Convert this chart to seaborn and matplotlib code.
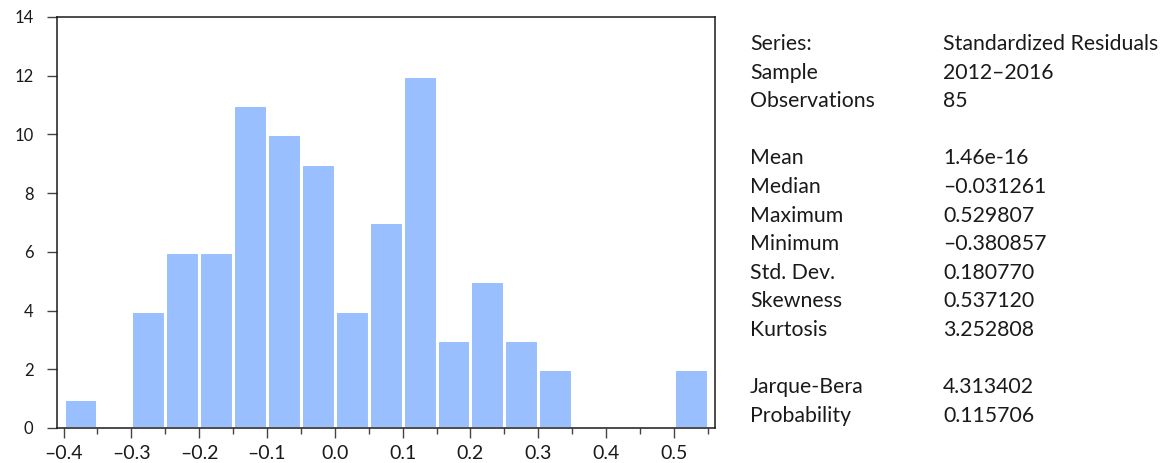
import matplotlib
matplotlib.use("Agg")
import matplotlib.pyplot as plt
import numpy as np
import pandas as pd
import seaborn as sns
from matplotlib.ticker import MultipleLocator

# bin left edges (width 0.05) and counts
bin_left = [-0.40, -0.35, -0.30, -0.25, -0.20, -0.15, -0.10, -0.05, 0.00,
            0.05, 0.10, 0.15, 0.20, 0.25, 0.30, 0.35, 0.40, 0.45, 0.50]
counts = [1, 0, 4, 6, 6, 11, 10, 9, 4, 7, 12, 3, 5, 3, 2, 0, 0, 0, 2]
bin_width = 0.05

# summary statistics panel
stat_labels = ["Series:", "Sample", "Observations", "",
               "Mean", "Median", "Maximum", "Minimum", "Std. Dev.", "Skewness", "Kurtosis", "",
               "Jarque-Bera", "Probability"]
stat_values = ["Standardized Residuals", "2012\u20132016", "85", "",
               "1.46e-16", "\u20130.031261", "0.529807", "\u20130.380857", "0.180770", "0.537120", "3.252808", "",
               "4.313402", "0.115706"]

df = pd.DataFrame({"resid": np.array(bin_left) + bin_width / 2, "n": counts})
edges = list(bin_left) + [bin_left[-1] + bin_width]

sns.set_theme(style="white")
plt.rcParams["font.family"] = ["Lato", "DejaVu Sans"]

fig = plt.figure(figsize=(11.73, 4.63), dpi=100)
ax = fig.add_axes([0.0486, 0.0756, 0.5609, 0.8877])

sns.histplot(data=df, x="resid", weights="n", bins=edges, ax=ax,
             color="#99BFFF", alpha=1.0, edgecolor="white", linewidth=2.2)

ax.set_xlim(-0.4096, 0.5605)
ax.set_ylim(0, 14)
ax.xaxis.set_major_locator(MultipleLocator(0.1))
ax.xaxis.set_minor_locator(MultipleLocator(0.05))
ax.yaxis.set_major_locator(MultipleLocator(2))
ax.xaxis.set_major_formatter(lambda v, p: f"{v:.1f}".replace("-", "\u2013"))
ax.set_xlabel("")
ax.set_ylabel("")
ax.tick_params(axis="x", which="major", bottom=True, direction="out", length=7, width=1,
               color="#444444", labelsize=14, labelcolor="#1a1a1a", pad=5)
ax.tick_params(axis="x", which="minor", bottom=True, direction="out", length=4, width=1,
               color="#444444")
ax.tick_params(axis="y", which="major", left=True, direction="out", length=7, width=1,
               color="#444444", labelsize=12, labelcolor="#1a1a1a", pad=10)
for s in ax.spines.values():
    s.set_color("#1a1a1a")
    s.set_linewidth(1.1)

# statistics text to the right of the plot
y0, dy = 44, 28.6
for i, (lab, val) in enumerate(zip(stat_labels, stat_values)):
    y = 1 - (y0 + i * dy) / 463
    fig.text(750 / 1173, y, lab, fontsize=15.3, va="center", ha="left", color="#1a1a1a")
    fig.text(943 / 1173, y, val, fontsize=15.3, va="center", ha="left", color="#1a1a1a")

fig.savefig("out.png", dpi=100)
plt.close(fig)
